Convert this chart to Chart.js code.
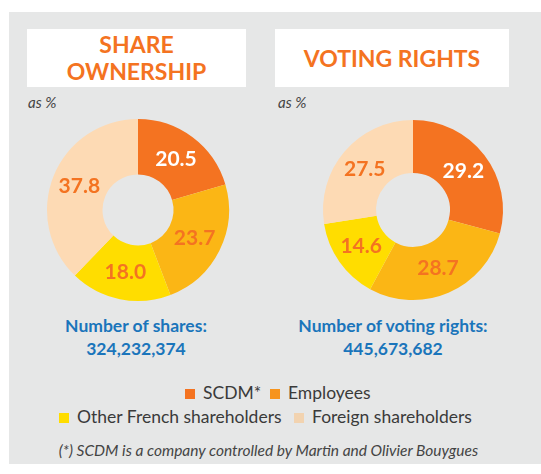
<!DOCTYPE html>
<html>
<head>
<meta charset="utf-8">
<script src="https://cdn.jsdelivr.net/npm/chart.js@4"></script>
<style>
  body { margin: 0; width: 541px; height: 474px; background: #fff; position: relative; overflow: hidden; font-family: Lato, sans-serif; }
  #panel { position: absolute; left: 9px; top: 12px; width: 532px; height: 452px; background: #e6e7e7; }
  .titlebox { position: absolute; top: 29px; height: 58px; background: #fff; color: #f47321; font-weight: 700; font-size: 23px; line-height: 27px; text-align: center; display: flex; align-items: center; justify-content: center; }
  .aspct { position: absolute; top: 93px; font-style: italic; font-size: 15px; color: #444; }
  .count { position: absolute; top: 314px; width: 260px; text-align: center; color: #1a75bb; font-weight: 700; font-size: 17.5px; line-height: 23px; }
  canvas { position: absolute; }
  .leg { position: absolute; font-size: 17.5px; color: #3a3a3a; white-space: nowrap; }
  .sq { display: inline-block; width: 10px; height: 10px; margin-right: 8px; vertical-align: 0px; }
  #note { position: absolute; top: 441px; left: 0; width: 537px; text-align: center; font-style: italic; font-size: 15.5px; color: #444; }
</style>
</head>
<body>
<div id="panel"></div>
<div class="titlebox" style="left:27px;width:219px;">SHARE<br>OWNERSHIP</div>
<div class="titlebox" style="left:275px;width:234px;">VOTING RIGHTS</div>
<div class="aspct" style="left:28px;">as %</div>
<div class="aspct" style="left:278px;">as %</div>
<canvas id="c1" width="200" height="200" style="left:38px;top:110px;"></canvas>
<canvas id="c2" width="200" height="200" style="left:313px;top:110px;"></canvas>
<div class="count" style="left:6px;">Number of shares:<br>324,232,374</div>
<div class="count" style="left:263px;">Number of voting rights:<br>445,673,682</div>
<div id="legend"></div>
<div id="note">(*) SCDM is a company controlled by Martin and Olivier Bouygues</div>
<script>
const categories = ['SCDM*', 'Employees', 'Other French shareholders', 'Foreign shareholders'];
const shareOwnership = [20.5, 23.7, 18.0, 37.8];
const votingRights = [29.2, 28.7, 14.6, 27.5];
const colors = ['#f47321', '#fbb615', '#ffdd00', '#fddab4'];
const legendColors = ['#f47321', '#f7941d', '#ffdd00', '#f2d3b0'];
const labelColors = ['#ffffff', '#f47321', '#f47321', '#f47321'];

// legend rows
const legendPos = [[185, 382], [270, 382], [59, 406], [294, 406]];
const legendEl = document.getElementById('legend');
categories.forEach(function (c, i) {
  const d = document.createElement('div');
  d.className = 'leg';
  d.style.left = legendPos[i][0] + 'px';
  d.style.top = legendPos[i][1] + 'px';
  d.innerHTML = '<span class="sq" style="background:' + legendColors[i] + '"></span>' + c;
  legendEl.appendChild(d);
});

const sliceLabels = {
  id: 'sliceLabels',
  afterDatasetsDraw(chart) {
    const ctx = chart.ctx;
    const meta = chart.getDatasetMeta(0);
    ctx.save();
    ctx.font = 'bold 21px Lato';
    ctx.textAlign = 'center';
    ctx.textBaseline = 'middle';
    meta.data.forEach(function (arc, i) {
      const p = arc.tooltipPosition();
      ctx.fillStyle = labelColors[i];
      ctx.fillText(chart.data.datasets[0].data[i].toFixed(1), p.x, p.y);
    });
    ctx.restore();
  }
};

function donut(id, values, r, hole) {
  new Chart(document.getElementById(id), {
    type: 'doughnut',
    data: {
      labels: categories,
      datasets: [{ data: values, backgroundColor: colors, borderWidth: 0 }]
    },
    options: {
      responsive: false,
      animation: false,
      radius: r,
      cutout: hole,
      plugins: { legend: { display: false }, tooltip: { enabled: false } }
    },
    plugins: [sliceLabels]
  });
}

donut('c1', shareOwnership, 91, 39);
donut('c2', votingRights, 90, 41);
</script>
</body>
</html>
